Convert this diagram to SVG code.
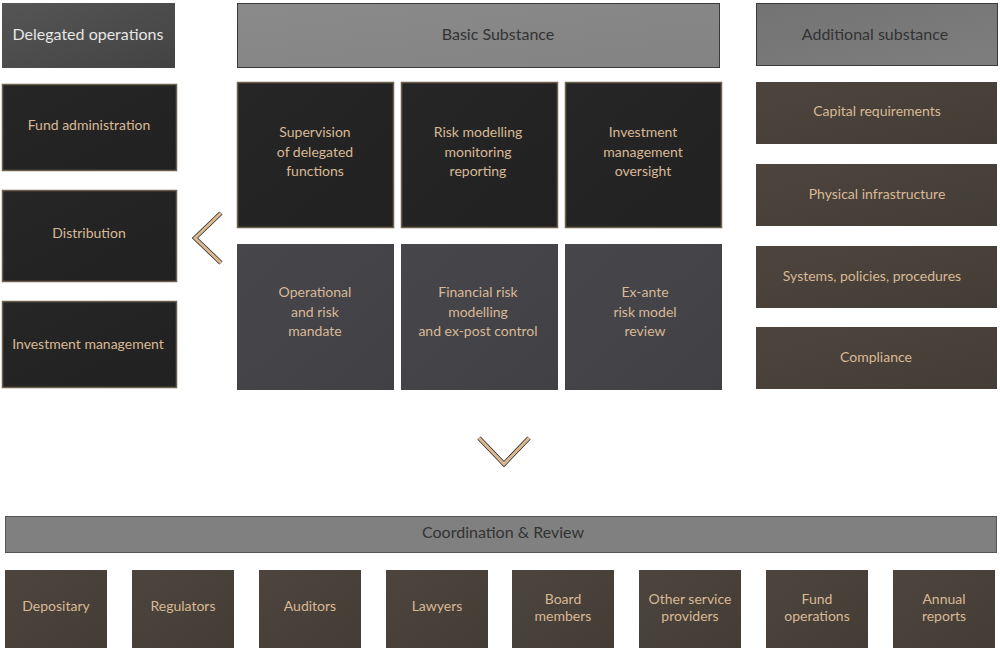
<svg xmlns="http://www.w3.org/2000/svg" width="1000" height="652" viewBox="0 0 1000 652">
<defs>
<linearGradient id="gHeadDark" x1="0" y1="0" x2="1" y2="1"><stop offset="0" stop-color="#555555"/><stop offset="1" stop-color="#434343"/></linearGradient>
<linearGradient id="gHeadGrey" x1="0" y1="0" x2="1" y2="1"><stop offset="0" stop-color="#8a8a8a"/><stop offset="1" stop-color="#838383"/></linearGradient>
<linearGradient id="gHeadGrey2" x1="0" y1="0" x2="1" y2="1"><stop offset="0" stop-color="#737373"/><stop offset="1" stop-color="#7e7e7e"/></linearGradient>
<linearGradient id="gBlack" x1="0" y1="0" x2="1" y2="1"><stop offset="0" stop-color="#262626"/><stop offset="1" stop-color="#212121"/></linearGradient>
<linearGradient id="gSlate" x1="0" y1="0" x2="1" y2="1"><stop offset="0" stop-color="#46464b"/><stop offset="1" stop-color="#404045"/></linearGradient>
<linearGradient id="gBrown" x1="0" y1="0" x2="1" y2="1"><stop offset="0" stop-color="#4c443d"/><stop offset="1" stop-color="#443d36"/></linearGradient>
</defs>
<style>
text{font-family:Lato,"Noto Sans","DejaVu Sans",sans-serif;text-anchor:middle;dominant-baseline:central}
.hd{fill:url(#gHeadDark)}
.hg{fill:url(#gHeadGrey);stroke:#3a3a3a;stroke-width:1}
.hg2{fill:url(#gHeadGrey2);stroke:#3a3a3a;stroke-width:1}
.bk{fill:url(#gBlack);stroke:#6e604f;stroke-width:1.5}
.sl{fill:url(#gSlate)}
.br{fill:url(#gBrown)}
.coord{fill:#808080;stroke:#555;stroke-width:1}
.tw{fill:#e6e6e6;font-size:16px}
.td{fill:#333333;font-size:16px}
.tt{fill:#d8b996;font-size:14px}
.chev-o{fill:none;stroke:#2a2a2a;stroke-width:4.5;stroke-linecap:butt}
.chev-i{fill:none;stroke:#dcb991;stroke-width:3;stroke-linecap:butt}
</style>

<g id="delegated-operations"><rect class="hd" x="2" y="3" width="173" height="65"/><text class="tw" x="88" y="33.5">Delegated operations</text></g>
<g id="fund-administration"><rect class="bk" x="2.5" y="84.5" width="174" height="86"/><text class="tt" x="89" y="124.5">Fund administration</text></g>
<g id="distribution"><rect class="bk" x="2.5" y="190.5" width="174" height="91"/><text class="tt" x="89" y="232.5">Distribution</text></g>
<g id="investment-management"><rect class="bk" x="2.5" y="301.5" width="174" height="86"/><text class="tt" x="88" y="343.5">Investment management</text></g>

<g id="basic-substance"><rect class="hg" x="237.5" y="3.5" width="482" height="64"/><text class="td" x="498" y="33.5">Basic Substance</text></g>
<g id="supervision"><rect class="bk" x="237.5" y="82.5" width="156" height="145"/><text class="tt" x="315" y="131.5">Supervision</text><text class="tt" x="315" y="151">of delegated</text><text class="tt" x="315" y="170.5">functions</text></g>
<g id="risk-modelling"><rect class="bk" x="401.5" y="82.5" width="156" height="145"/><text class="tt" x="478" y="131.5">Risk modelling</text><text class="tt" x="478" y="151">monitoring</text><text class="tt" x="478" y="170.5">reporting</text></g>
<g id="investment-oversight"><rect class="bk" x="565.5" y="82.5" width="156" height="145"/><text class="tt" x="643" y="131.5">Investment</text><text class="tt" x="643" y="151">management</text><text class="tt" x="643" y="170.5">oversight</text></g>
<g id="operational-risk"><rect class="sl" x="237" y="244" width="157" height="146"/><text class="tt" x="315" y="291.5">Operational</text><text class="tt" x="315" y="311">and risk</text><text class="tt" x="315" y="330.5">mandate</text></g>
<g id="financial-risk"><rect class="sl" x="401" y="244" width="157" height="146"/><text class="tt" x="478" y="291.5">Financial risk</text><text class="tt" x="478" y="311">modelling</text><text class="tt" x="478" y="330.5">and ex-post control</text></g>
<g id="ex-ante"><rect class="sl" x="565" y="244" width="157" height="146"/><text class="tt" x="645" y="291.5">Ex-ante</text><text class="tt" x="645" y="311">risk model</text><text class="tt" x="645" y="330.5">review</text></g>

<g id="additional-substance"><rect class="hg2" x="756.5" y="3.5" width="241" height="62"/><text class="td" x="875" y="33.5">Additional substance</text></g>
<g id="capital-requirements"><rect class="br" x="756" y="82" width="241" height="62"/><text class="tt" x="877" y="110.5">Capital requirements</text></g>
<g id="physical-infrastructure"><rect class="br" x="756" y="164" width="241" height="62"/><text class="tt" x="877" y="193.5">Physical infrastructure</text></g>
<g id="systems"><rect class="br" x="756" y="246" width="241" height="62"/><text class="tt" x="872" y="275.5">Systems, policies, procedures</text></g>
<g id="compliance"><rect class="br" x="756" y="327" width="241" height="62"/><text class="tt" x="876" y="356.5">Compliance</text></g>

<g id="connectors">
<polyline class="chev-o" points="221,213 195,238 221,263"/>
<polyline class="chev-i" points="221,213 195,238 221,263"/>
<polyline class="chev-o" points="479,438 504,464 529,438"/>
<polyline class="chev-i" points="479,438 504,464 529,438"/>
</g>

<g id="coordination-review"><rect class="coord" x="5.5" y="516.5" width="991" height="36"/><text class="td" x="503" y="531.5">Coordination &amp; Review</text></g>
<g id="depositary"><rect class="br" x="5" y="570" width="102" height="78"/><text class="tt" x="56" y="605.5">Depositary</text></g>
<g id="regulators"><rect class="br" x="132" y="570" width="102" height="78"/><text class="tt" x="183" y="605.5">Regulators</text></g>
<g id="auditors"><rect class="br" x="259" y="570" width="102" height="78"/><text class="tt" x="310" y="605.5">Auditors</text></g>
<g id="lawyers"><rect class="br" x="386" y="570" width="102" height="78"/><text class="tt" x="437" y="605.5">Lawyers</text></g>
<g id="board-members"><rect class="br" x="512" y="570" width="102" height="78"/><text class="tt" x="563" y="598.5">Board</text><text class="tt" x="563" y="615.5">members</text></g>
<g id="other-service-providers"><rect class="br" x="639" y="570" width="102" height="78"/><text class="tt" x="690" y="598.5">Other service</text><text class="tt" x="690" y="615.5">providers</text></g>
<g id="fund-operations"><rect class="br" x="766" y="570" width="102" height="78"/><text class="tt" x="817" y="598.5">Fund</text><text class="tt" x="817" y="615.5">operations</text></g>
<g id="annual-reports"><rect class="br" x="893" y="570" width="102" height="78"/><text class="tt" x="944" y="598.5">Annual</text><text class="tt" x="944" y="615.5">reports</text></g>
</svg>
